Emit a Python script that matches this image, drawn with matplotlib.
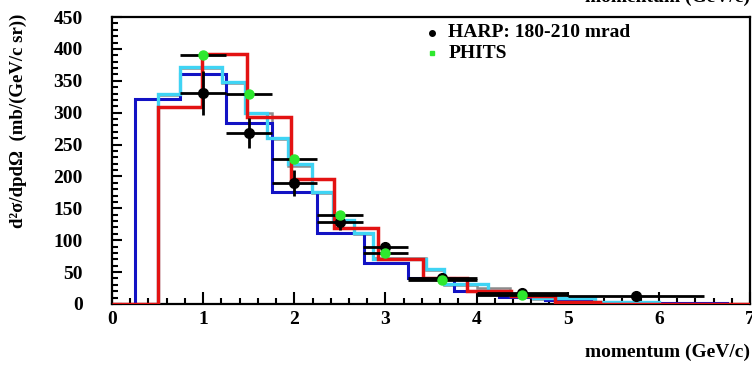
import matplotlib
matplotlib.use("Agg")
import matplotlib.pyplot as plt
from matplotlib.ticker import MultipleLocator

plt.rcParams["font.family"] = ["Liberation Serif", "DejaVu Serif"]
plt.rcParams["font.weight"] = "bold"

# HARP data points, 180-210 mrad (bin centres, half widths, values, stat errors)
harp_p = [1.0, 1.5, 2.0, 2.5, 3.0, 3.625, 4.5, 5.75]
harp_dp = [0.25, 0.25, 0.25, 0.25, 0.25, 0.375, 0.5, 0.75]
harp_val = [331, 268, 190, 128, 89, 40, 17, 12]
harp_err = [35, 24, 20, 12, 8, 5, 3, 2]

# PHITS evaluated in the same momentum bins
phits_p = [1.0, 1.5, 2.0, 2.5, 3.0, 3.625, 4.5]
phits_dp = [0.25, 0.25, 0.25, 0.25, 0.25, 0.375, 0.5]
phits_val = [391, 329, 227, 139, 80, 38, 14]

# model histograms (bin edges + contents)
gray_edges = [0.5, 0.75, 1.21, 1.46, 1.75, 1.93, 2.19, 2.43, 2.65, 2.86, 3.44, 3.64,
              4.0, 4.37, 4.62, 5.3, 6.0]
gray_vals = [328, 370, 346, 300, 258, 217, 174, 130, 110, 72, 53, 30, 25, 13, 8, 3]

blue_edges = [0.25, 0.75, 1.25, 1.75, 2.25, 2.76, 3.25, 3.75, 4.25, 4.75, 5.25, 5.75, 6.25, 6.75]
blue_vals = [322, 361, 284, 176, 111, 64, 40, 20, 11, 6, 3, 2, 1]

cyan_edges = [0.5, 0.75, 1.21, 1.46, 1.70, 1.93, 2.19, 2.43, 2.65, 2.86, 3.44, 3.64,
              4.12, 4.37, 4.62, 5.3, 6.0]
cyan_vals = [330, 372, 348, 300, 260, 219, 176, 132, 112, 70, 55, 32, 19, 14, 9, 3]

red_edges = [0.0, 0.5, 0.99, 1.48, 1.96, 2.44, 2.92, 3.41, 3.89, 4.38, 4.86, 5.35, 7.0]
red_vals = [0, 309, 392, 293, 196, 119, 70, 40, 21, 12, 3, 0.6]

fig = plt.figure(figsize=(7.52, 3.65), dpi=100)
ax = fig.add_axes([112 / 752, 61 / 365, 638 / 752, 287 / 365])

ax.stairs(gray_vals, gray_edges, baseline=0, color="#8c8c8c", lw=1.8, zorder=2)
ax.stairs(blue_vals, blue_edges, baseline=0, color="#1212c4", lw=2.2, zorder=3)
ax.stairs(cyan_vals, cyan_edges, baseline=0, color="#3fd4f4", lw=2.4, zorder=4)
ax.stairs(red_vals, red_edges, baseline=0, color="#e31212", lw=2.5, zorder=5)

ax.errorbar(harp_p, harp_val, xerr=harp_dp, yerr=harp_err, fmt="o", color="black",
            ms=7, elinewidth=2.0, capsize=0, zorder=6)
ax.errorbar(phits_p, phits_val, xerr=phits_dp, fmt="o", color="#2ee82e", mec="#2ee82e",
            ecolor="black", ms=6.5, elinewidth=2.0, capsize=0, zorder=7)

ax.set_xlim(0, 7)
ax.set_ylim(0, 450)
ax.xaxis.set_major_locator(MultipleLocator(1))
ax.xaxis.set_minor_locator(MultipleLocator(0.2))
ax.yaxis.set_major_locator(MultipleLocator(50))
ax.yaxis.set_minor_locator(MultipleLocator(10))
ax.tick_params(axis="both", which="both", direction="in", top=False, right=False,
               width=1.5)
ax.tick_params(axis="x", which="major", length=9, pad=5, labelsize=14)
ax.tick_params(axis="x", which="minor", length=4.5)
ax.tick_params(axis="y", which="major", length=7, pad=21, labelsize=14)
ax.tick_params(axis="y", which="minor", length=4)
for lab in ax.get_xticklabels() + ax.get_yticklabels():
    lab.set_fontweight("bold")
for side in ax.spines.values():
    side.set_linewidth(1.6)

ax.set_ylabel("d²σ/dpdΩ  (mb/(GeV/c sr))", fontsize=13.5, fontweight="bold")
ax.yaxis.set_label_coords(-0.133, 0.64)

fig.text(0.997, 1 - 352 / 365, "momentum (GeV/c)", ha="right", va="center",
         fontsize=14, fontweight="bold")
# axis title of the panel above, cut by the top edge
fig.text(0.997, 1 + 3 / 365, "momentum (GeV/c)", ha="right", va="center",
         fontsize=14, fontweight="bold")

# legend
ax.plot([0.502], [0.945], "o", color="black", ms=4, transform=ax.transAxes, clip_on=False)
ax.plot([0.502], [0.873], "s", color="#2ee82e", ms=3.5, transform=ax.transAxes, clip_on=False)
ax.text(0.527, 0.945, "HARP: 180-210 mrad", transform=ax.transAxes, va="center",
        fontsize=14, fontweight="bold")
ax.text(0.527, 0.873, "PHITS", transform=ax.transAxes, va="center",
        fontsize=14, fontweight="bold")

fig.savefig("out.png", dpi=100)
